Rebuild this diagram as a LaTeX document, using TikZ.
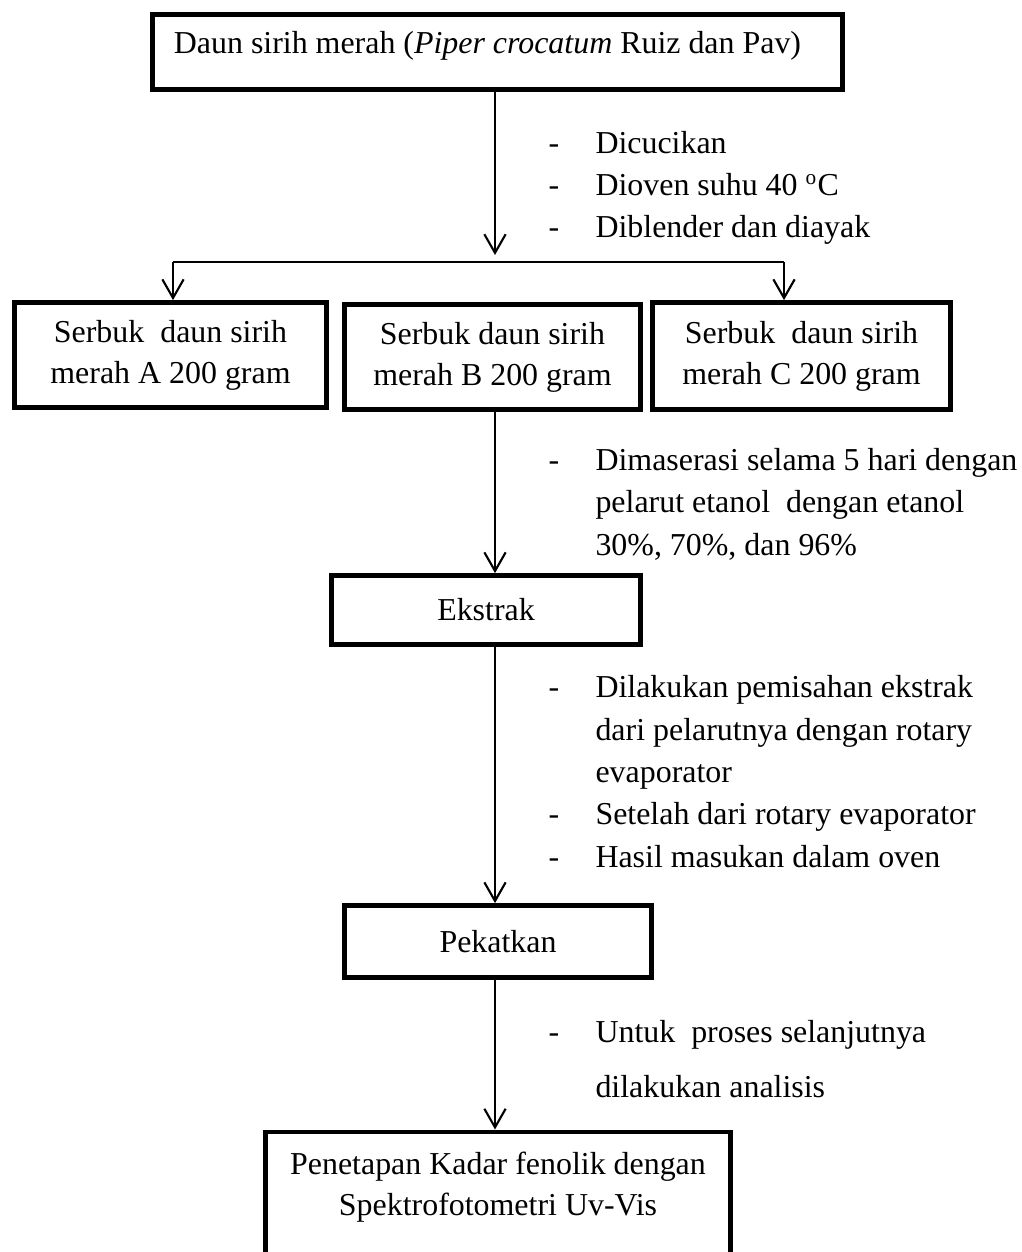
\documentclass[tikz,border=0pt]{standalone}
\usepackage{fontspec}
\setmainfont{Liberation Serif}
\usetikzlibrary{arrows.meta}

\newlength{\pxu}
\setlength{\pxu}{0.376pt}
\newcommand{\dashitem}[1]{\makebox[47\pxu][l]{-}#1}
\newcommand{\contitem}[1]{\hspace*{47\pxu}#1}

\begin{document}
\begin{tikzpicture}[x=\pxu,y=-\pxu]
	\tikzset{box/.style = {draw, line width=1.8pt, align=center, inner sep=0pt,
			font=\fontsize{12}{15.5}\selectfont},
		flow/.style = {-{Straight Barb[length=7pt,width=8pt]}, line width=0.8pt},
		note/.style = {anchor=base west, align=left, inner sep=0pt,
			font=\fontsize{12}{15.9}\selectfont}}
	\useasboundingbox (0,0) rectangle (1022,1252);
	% boxes
	\node[box, minimum width=690\pxu, minimum height=75\pxu, text depth=7pt] (daun) at (497.5,52)
		{Daun sirih merah (\textit{Piper crocatum} Ruiz dan Pav)\hspace*{20\pxu}};
	\node[box, minimum width=312\pxu, minimum height=105\pxu] (serbA) at (170.5,355)
		{Serbuk\ \ daun sirih\\merah A 200 gram};
	\node[box, minimum width=296\pxu, minimum height=105\pxu] (serbB) at (492.5,357)
		{Serbuk daun sirih\\merah B 200 gram};
	\node[box, minimum width=298\pxu, minimum height=107\pxu] (serbC) at (801.5,356)
		{Serbuk\ \ daun sirih\\merah C 200 gram};
	\node[box, minimum width=309\pxu, minimum height=69\pxu] (ekstrak) at (486,610) {Ekstrak};
	\node[box, minimum width=307\pxu, minimum height=72\pxu] (pekat) at (498,941.5) {Pekatkan};
	\node[box, anchor=north, minimum width=465\pxu, inner ysep=20\pxu, text depth=40pt] (fenol) at (498,1129.5)
		{Penetapan Kadar fenolik dengan\\Spektrofotometri Uv-Vis};
	% notes (anchored at the baseline of their last line)
	\node[note] (n1) at (548,238) {\dashitem{Dicucikan}\\\dashitem{Dioven suhu 40 \textsuperscript{o}C}\\\dashitem{Diblender dan diayak}};
	\node[note] (n2) at (548,555) {\dashitem{Dimaserasi selama 5 hari dengan}\\\contitem{pelarut etanol\ \ dengan etanol}\\\contitem{30\%, 70\%, dan 96\%}};
	\node[note] (n3) at (548,867) {\dashitem{Dilakukan pemisahan ekstrak}\\\contitem{dari pelarutnya dengan rotary}\\\contitem{evaporator}\\\dashitem{Setelah dari rotary evaporator}\\\dashitem{Hasil masukan dalam oven}};
	\node[note] (n4) at (548,1097) {\dashitem{Untuk\ \ proses selanjutnya}\\[4.5pt]\contitem{dilakukan analisis}};
	% arrows
	\coordinate (forktip) at (495,255);
	\coordinate (forkA) at (173,262);
	\coordinate (forkC) at (784,262);
	\draw[flow] (forktip |- daun.south) -- (forktip);
	\draw[line width=0.8pt] (forkA) -- (forkC);
	\draw[flow] (forkA) -- (forkA |- serbA.north);
	\draw[flow] (forkC) -- (forkC |- serbC.north);
	\draw[flow] (forktip |- serbB.south) -- (forktip |- ekstrak.north);
	\draw[flow] (forktip |- ekstrak.south) -- (forktip |- pekat.north);
	\draw[flow] (forktip |- pekat.south) -- (forktip |- fenol.north);
\end{tikzpicture}
\end{document}
